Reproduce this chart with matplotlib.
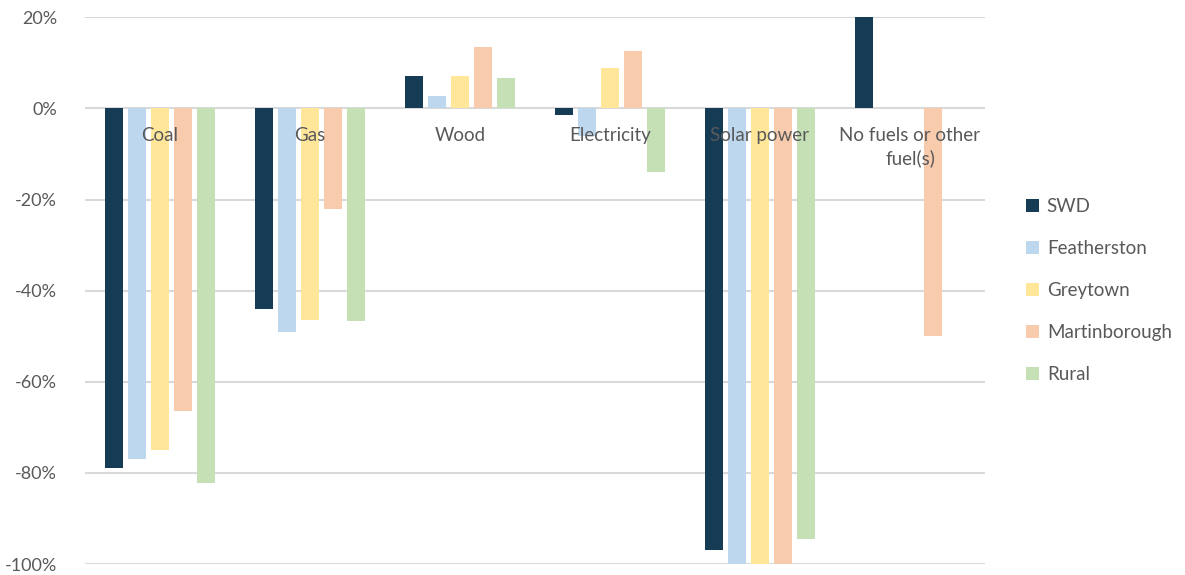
import numpy as np
import matplotlib.pyplot as plt

plt.rcParams['font.family'] = ['Lato', 'DejaVu Sans']

categories = ["Coal", "Gas", "Wood", "Electricity", "Solar power", "No fuels or other\nfuel(s)"]
areas = ["SWD", "Featherston", "Greytown", "Martinborough", "Rural"]
colors = ["#163b54", "#bdd7ee", "#ffe699", "#f8cbad", "#c5e0b4"]

# percentage change by fuel type, one list per area
swd = [-79, -44, 7.0, -1.5, -97, 20]
featherston = [-77, -49, 2.8, -6.0, -100, 0]
greytown = [-75, -46.5, 7.0, 8.8, -100, 0]
martinborough = [-66.5, -22, 13.4, 12.7, -100, -50]
rural = [-82.3, -46.7, 6.6, -14, -94.5, 0]
series = [swd, featherston, greytown, martinborough, rural]

fig = plt.figure(figsize=(11.85, 5.75), dpi=100)
ax = fig.add_axes([0.0717, 0.019, 0.7595, 0.951])

x = np.arange(len(categories))
slot = 0.153
bw = 0.12
for i, (vals, name, c) in enumerate(zip(series, areas, colors)):
    ax.bar(x + (i - 2) * slot, vals, bw, color=c, label=name, zorder=2)

ax.set_xlim(-0.5, len(categories) - 0.5)
ax.set_ylim(-100, 20)
ax.set_yticks(np.arange(-100, 21, 20))
ax.set_yticklabels([f"{v}%" for v in range(-100, 21, 20)])
ax.tick_params(axis='y', length=0, pad=20, labelsize=13, labelcolor="#595959")
ax.set_xticks([])
ax.grid(axis='y', color="#d9d9d9", linewidth=1.5, zorder=1)
for s in ax.spines.values():
    s.set_visible(False)

# category names sit just under the zero line, over the bars
for xi, cat in zip(x, categories):
    ax.text(xi, -4.1, cat, ha='center', va='top', fontsize=13.5,
            color="#595959", zorder=3, linespacing=1.35)

ax.legend(loc='center left', bbox_to_anchor=(1.027, 0.5), frameon=False,
          fontsize=13.5, labelcolor="#595959", handlelength=0.7, handleheight=0.7,
          handletextpad=0.4, labelspacing=1.33)

fig.savefig("out.png", dpi=100)
